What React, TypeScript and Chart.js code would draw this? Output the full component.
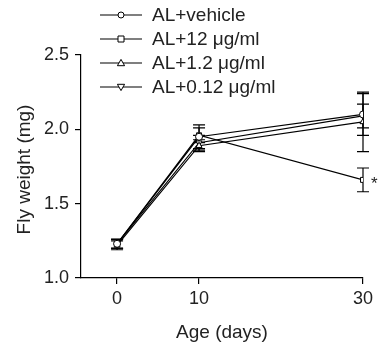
import React, { useEffect, useRef } from "react";
import { Chart, registerables } from "chart.js";

Chart.register(...registerables);

const days = [0, 10, 30];
const vehicle = [1.23, 1.95, 2.1];
const vehicleErr = [0.03, 0.08, 0.14];
const ug12 = [1.23, 1.96, 1.66];
const ug12Err = [0.03, 0.05, 0.08];
const ug1_2 = [1.22, 1.89, 2.05];
const ug1_2Err = [0.03, 0.04, 0.2];
const ug0_12 = [1.23, 1.91, 2.09];
const ug0_12Err = [0.03, 0.05, 0.08];
const yTicks = [1.0, 1.5, 2.0, 2.5];
const xTicks = [0, 10, 30];
const labels = ["AL+vehicle", "AL+12 \u03bcg/ml", "AL+1.2 \u03bcg/ml", "AL+0.12 \u03bcg/ml"];

const FONT = "'Liberation Sans', Arial, Helvetica, sans-serif";
const TXT = "#222";

export default function App() {
  const ref = useRef<HTMLCanvasElement>(null);
  useEffect(() => {
    const ctx = ref.current!.getContext("2d")!;
    const series = [
      { data: vehicle, err: vehicleErr, style: "circle", rot: 0 },
      { data: ug12, err: ug12Err, style: "rect", rot: 0 },
      { data: ug1_2, err: ug1_2Err, style: "triangle", rot: 0 },
      { data: ug0_12, err: ug0_12Err, style: "triangle", rot: 180 },
    ];
    const extras = {
      id: "extras",
      beforeDatasetsDraw(chart: any) {
        const c = chart.ctx;
        const xs = chart.scales.x;
        const ys = chart.scales.y;
        c.save();
        c.strokeStyle = "#000";
        c.lineWidth = 1.2;
        series.forEach((s) => {
          s.data.forEach((v, i) => {
            const px = xs.getPixelForValue(days[i]);
            const top = ys.getPixelForValue(v + s.err[i]);
            const bot = ys.getPixelForValue(v - s.err[i]);
            c.beginPath();
            c.moveTo(px, top);
            c.lineTo(px, bot);
            c.moveTo(px - 6, top);
            c.lineTo(px + 6, top);
            c.moveTo(px - 6, bot);
            c.lineTo(px + 6, bot);
            c.stroke();
          });
        });
        c.restore();
      },
      afterDraw(chart: any) {
        const c = chart.ctx;
        const xs = chart.scales.x;
        const ys = chart.scales.y;
        c.save();
        c.fillStyle = TXT;
        c.font = `19px ${FONT}`;
        c.textAlign = "center";
        c.textBaseline = "middle";
        c.fillText("Age (days)", (chart.chartArea.left + chart.chartArea.right) / 2, 333);
        c.save();
        c.translate(25, (chart.chartArea.top + chart.chartArea.bottom) / 2 + 3);
        c.rotate(-Math.PI / 2);
        c.fillText("Fly weight (mg)", 0, 0);
        c.restore();
        // star
        c.textAlign = "left";
        c.font = `17px ${FONT}`;
        c.fillText("*", xs.getPixelForValue(30) + 8, ys.getPixelForValue(ug12[2]) + 4);
        // legend
        c.font = `19px ${FONT}`;
        series.forEach((s, i) => {
          const y = 15 + i * 24;
          c.strokeStyle = "#000";
          c.lineWidth = 1.2;
          c.beginPath();
          c.moveTo(100, y);
          c.lineTo(142, y);
          c.stroke();
          c.fillStyle = "#fff";
          c.strokeStyle = "#000";
          c.lineWidth = 1;
          const r = 3;
          c.beginPath();
          if (s.style === "circle") {
            c.arc(121, y, r, 0, Math.PI * 2);
          } else if (s.style === "rect") {
            c.rect(121 - r, y - r, 2 * r, 2 * r);
          } else {
            const d = s.rot ? -1 : 1;
            c.moveTo(121, y - d * r * 1.2);
            c.lineTo(121 - r * 1.2, y + d * r * 0.9);
            c.lineTo(121 + r * 1.2, y + d * r * 0.9);
            c.closePath();
          }
          c.fill();
          c.stroke();
          c.fillStyle = TXT;
          c.textAlign = "left";
          c.textBaseline = "middle";
          c.fillText(labels[i], 152, y + 1);
        });
        c.restore();
      },
    };
    const chart = new Chart(ctx, {
      type: "line",
      data: {
        datasets: series.map((s, i) => ({
          label: labels[i],
          data: s.data.map((v, j) => ({ x: days[j], y: v })),
          borderColor: "#000",
          borderWidth: 1.2,
          backgroundColor: "#fff",
          pointStyle: s.style as any,
          pointRotation: s.rot,
          pointRadius: 3.5,
          pointBorderWidth: 1,
          pointBackgroundColor: "#fff",
          pointBorderColor: "#000",
          tension: 0,
        })),
      },
      options: {
        animation: false,
        responsive: true,
        maintainAspectRatio: false,
        layout: { padding: { top: 55, right: 15, left: 0, bottom: 0 } },
        plugins: { legend: { display: false }, tooltip: { enabled: false } },
        scales: {
          x: {
            type: "linear",
            min: -4.4,
            max: 30,
            afterBuildTicks: (scale: any) => {
              scale.ticks = xTicks.map((v) => ({ value: v }));
            },
            afterFit: (scale: any) => {
              scale.height = 71;
            },
            grid: { drawOnChartArea: false, drawTicks: true, tickLength: 6, color: "#000", lineWidth: 1.2 },
            border: { display: true, color: "#000", width: 1.2 },
            ticks: { color: TXT, font: { family: FONT, size: 18 }, padding: 4, maxRotation: 0 },
          },
          y: {
            type: "linear",
            min: 1.0,
            max: 2.5,
            afterBuildTicks: (scale: any) => {
              scale.ticks = yTicks.map((v) => ({ value: v }));
            },
            afterFit: (scale: any) => {
              scale.width = 81;
            },
            grid: { drawOnChartArea: false, drawTicks: true, tickLength: 6, color: "#000", lineWidth: 1.2 },
            border: { display: true, color: "#000", width: 1.2 },
            ticks: {
              color: TXT,
              font: { family: FONT, size: 18 },
              padding: 6,
              callback: (v: any) => Number(v).toFixed(1),
            },
          },
        },
      },
      plugins: [extras],
    });
    return () => chart.destroy();
  }, []);
  return (
    <div style={{ position: "absolute", left: 0, top: 0, width: 378, height: 349 }}>
      <canvas ref={ref} />
    </div>
  );
}
